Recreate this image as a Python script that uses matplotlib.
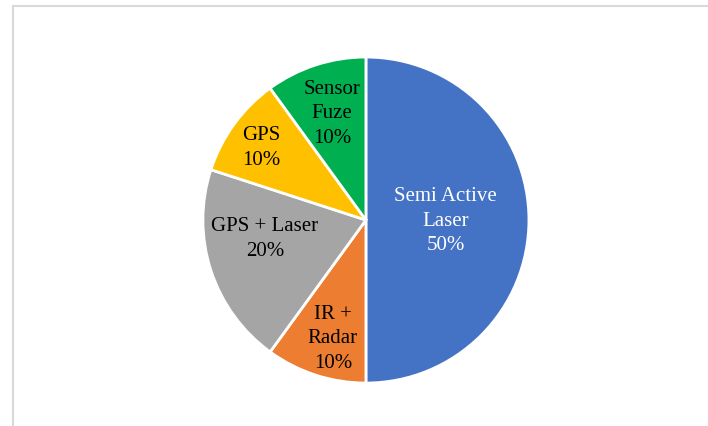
import matplotlib.pyplot as plt
from matplotlib.lines import Line2D
import numpy as np

# slices, clockwise from 12 o'clock
labels = ['Semi Active\nLaser', 'IR +\nRadar', 'GPS + Laser', 'GPS', 'Sensor\nFuze']
shares = [50, 10, 20, 10, 10]
colors = ['#4472C4', '#ED7D31', '#A5A5A5', '#FFC000', '#00B050']
text_colors = ['white', 'black', 'black', 'black', 'black']
# where each label sits: (radius fraction, angle offset in degrees)
label_pos = [(0.49, 0), (0.75, 2.3), (0.63, -8), (0.785, 1.2), (0.69, -0.5)]

plt.rcParams['font.family'] = ['Liberation Serif', 'DejaVu Serif']

fig = plt.figure(figsize=(7.08, 4.27), dpi=100)
ax = fig.add_axes([0.2866, 0.1006, 0.4605, 0.7635])

wedges, _ = ax.pie(shares, colors=colors, startangle=90, counterclock=False,
                   radius=1.0, wedgeprops=dict(edgecolor='white', linewidth=2))

for w, lab, s, tc, (r, off) in zip(wedges, labels, shares, text_colors, label_pos):
    mid = np.deg2rad((w.theta1 + w.theta2) / 2 + off)
    ax.text(r * np.cos(mid), r * np.sin(mid), f'{lab}\n{s}%', ha='center', va='center',
            fontsize=15, color=tc, linespacing=1.4)

ax.set_xlim(-1, 1)
ax.set_ylim(-1, 1)
ax.set_aspect('equal')
ax.axis('off')

# light chart border (left and top)
fig.add_artist(Line2D([12.5 / 708, 12.5 / 708], [0, 420.5 / 427], color='#D9D9D9', lw=1.5))
fig.add_artist(Line2D([12.5 / 708, 1], [420.5 / 427, 420.5 / 427], color='#D9D9D9', lw=1.5))

fig.savefig('out.png', dpi=100)
